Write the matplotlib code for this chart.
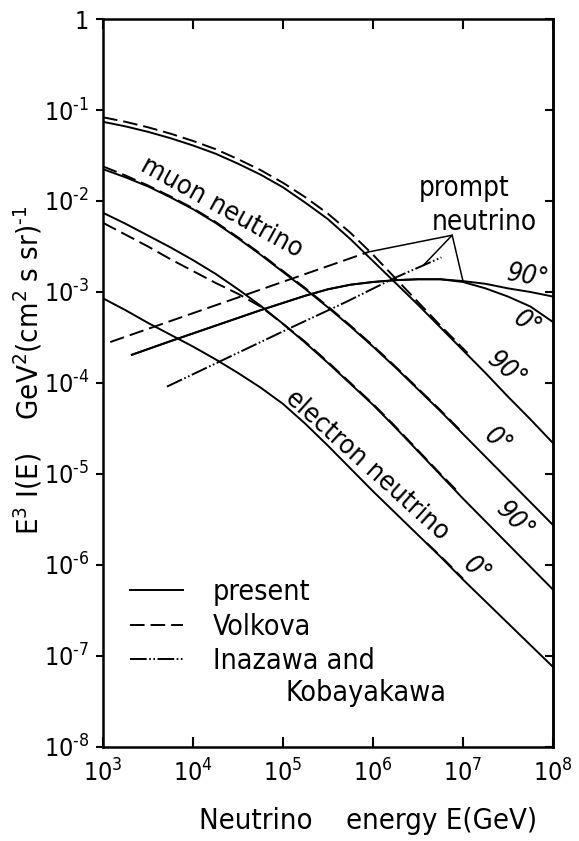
import numpy as np
import matplotlib.pyplot as plt
from matplotlib.ticker import FixedLocator, FixedFormatter, NullLocator

plt.rcParams['font.family'] = ['DejaVu Sans']
plt.rcParams['font.stretch'] = 'condensed'
plt.rcParams['mathtext.fontset'] = 'custom'
plt.rcParams['mathtext.rm'] = 'DejaVu Sans:stretch=condensed'
plt.rcParams['mathtext.it'] = 'DejaVu Sans:stretch=condensed'
plt.rcParams['lines.scale_dashes'] = False

# values, as log10(E / GeV) and log10(E^3 I(E))
log_e = [3.0, 3.25, 3.5, 3.75, 4.0, 4.25, 4.5, 4.75, 5.0, 5.25, 5.5,
         5.75, 6.0, 6.25, 6.5, 6.75, 7.0, 7.25, 7.5, 7.75, 8.0]

# present calculation
muon_90 = [-1.13, -1.18, -1.24, -1.31, -1.39, -1.48, -1.59, -1.71, -1.85, -2.02, -2.20,
           -2.42, -2.66, -2.90, -3.14, -3.39, -3.64, -3.89, -4.15, -4.40, -4.66]
muon_0 = [-1.65, -1.74, -1.84, -1.96, -2.09, -2.24, -2.41, -2.59, -2.78, -2.97, -3.17,
          -3.38, -3.60, -3.83, -4.07, -4.31, -4.56, -4.81, -5.06, -5.31, -5.56]
elec_90 = [-2.13, -2.25, -2.38, -2.51, -2.65, -2.80, -2.97, -3.15, -3.35, -3.56, -3.78,
           -4.01, -4.24, -4.49, -4.75, -5.01, -5.27, -5.52, -5.77, -6.02, -6.27]
elec_0 = [-3.07, -3.20, -3.34, -3.47, -3.60, -3.74, -3.89, -4.05, -4.23, -4.45, -4.69,
          -4.94, -5.19, -5.43, -5.67, -5.91, -6.16, -6.40, -6.64, -6.88, -7.12]

# Volkova
volk_mu90_e = [3.0, 3.25, 3.5, 3.75, 4.0, 4.25, 4.5, 4.75, 5.0, 5.25, 5.5, 5.75, 6.0, 6.25, 6.5, 6.75, 7.05]
volk_mu90 = [-1.08, -1.13, -1.19, -1.26, -1.34, -1.43, -1.54, -1.66, -1.80, -1.96, -2.14,
             -2.35, -2.59, -2.85, -3.11, -3.37, -3.67]
volk_mu0_e = [3.0, 3.25, 3.5, 3.75, 4.0, 4.25, 4.5, 4.75, 5.0, 5.25, 5.5, 5.75, 6.0, 6.25, 6.5, 6.75, 7.0]
volk_mu0 = [-1.62, -1.72, -1.83, -1.95, -2.08, -2.23, -2.40, -2.58, -2.77, -2.96, -3.16,
            -3.37, -3.59, -3.82, -4.06, -4.30, -4.55]
volk_e90_e = [3.0, 3.25, 3.5, 3.75, 4.0, 4.25, 4.5, 4.75, 5.0, 5.25, 5.5, 5.75, 6.0, 6.25, 6.5, 6.75, 6.92]
volk_e90 = [-2.24, -2.37, -2.50, -2.64, -2.77, -2.90, -3.02, -3.16, -3.35, -3.55, -3.77,
            -4.00, -4.23, -4.48, -4.74, -5.00, -5.17]
volk_e0_e = [6.6, 6.8, 7.0]
volk_e0 = [-5.76, -5.95, -6.15]

# prompt neutrinos
prompt_e = [3.32, 3.75, 4.25, 4.75, 5.0, 5.25, 5.5, 5.75, 6.0, 6.25, 6.5, 6.75,
            7.0, 7.25, 7.5, 7.75, 8.0]
prompt_90 = [-3.69, -3.54, -3.37, -3.20, -3.12, -3.04, -2.97, -2.92, -2.89, -2.87, -2.86, -2.86,
             -2.88, -2.91, -2.96, -3.00, -3.05]
prompt_0 = [-3.69, -3.54, -3.37, -3.20, -3.12, -3.04, -2.97, -2.92, -2.89, -2.87, -2.86, -2.86,
            -2.89, -2.96, -3.05, -3.16, -3.33]
volk_prompt_e = [3.08, 5.95]
volk_prompt = [-3.55, -2.56]
ik_prompt_e = [3.71, 5.07, 5.7, 6.23, 6.76]
ik_prompt = [-4.04, -3.40, -3.11, -2.85, -2.62]

x_ticks = [1e3, 1e4, 1e5, 1e6, 1e7, 1e8]
x_labels = ['$10^3$', '$10^4$', '$10^5$', '$10^6$', '$10^7$', '$10^8$']
y_ticks = [1, 1e-1, 1e-2, 1e-3, 1e-4, 1e-5, 1e-6, 1e-7, 1e-8]
y_labels = ['1', '$10^{‐1}$', '$10^{‐2}$', '$10^{‐3}$', '$10^{‐4}$',
            '$10^{‐5}$', '$10^{‐6}$', '$10^{‐7}$', '$10^{‐8}$']

FS = 18
LW = 1.4
DASH = (0, (10.5, 4.3))
DASHDOT = (0, (12, 1.8, 1.2, 1.8, 1.2, 1.8))


def p(v):
    return 10 ** np.asarray(v)


fig = plt.figure(figsize=(5.79, 8.41), dpi=100)
ax = fig.add_axes([0.178, 0.1118, 0.777, 0.8656])
ax.set_xscale('log')
ax.set_yscale('log')

kw = dict(color='black', lw=LW)
l_present, = ax.plot(p(log_e), p(muon_90), **kw)
for y in (muon_0, elec_90, elec_0):
    ax.plot(p(log_e), p(y), **kw)
ax.plot(p(prompt_e), p(prompt_90), **kw)
ax.plot(p(prompt_e), p(prompt_0), **kw)

l_volk, = ax.plot(p(volk_mu90_e), p(volk_mu90), ls=DASH, **kw)
ax.plot(p(volk_mu0_e), p(volk_mu0), ls=DASH, **kw)
ax.plot(p(volk_e90_e), p(volk_e90), ls=DASH, **kw)
ax.plot(p(volk_e0_e), p(volk_e0), ls=DASH, **kw)
ax.plot(p(volk_prompt_e), p(volk_prompt), ls=DASH, **kw)

l_ik, = ax.plot(p(ik_prompt_e), p(ik_prompt), ls=DASHDOT, **kw)

ax.set_xlim(1e3, 1e8)
ax.set_ylim(1e-8, 1)

ax.xaxis.set_major_locator(FixedLocator(x_ticks))
ax.xaxis.set_major_formatter(FixedFormatter(x_labels))
ax.xaxis.set_minor_locator(NullLocator())
ax.yaxis.set_major_locator(FixedLocator(y_ticks))
ax.yaxis.set_major_formatter(FixedFormatter(y_labels))
ax.yaxis.set_minor_locator(NullLocator())
ax.tick_params(axis='x', which='major', direction='in', top=True, length=7, width=1.5,
               labelsize=FS, pad=9)
ax.tick_params(axis='y', which='major', direction='out', length=5, width=1.5,
               labelsize=FS, pad=5)
for s in ax.spines.values():
    s.set_linewidth(1.8)

right = ax.secondary_yaxis('right')
right.set_yscale('log')
right.yaxis.set_major_locator(FixedLocator(y_ticks))
right.yaxis.set_minor_locator(NullLocator())
right.tick_params(direction='in', length=6, width=1.5, labelright=False)
right.spines['right'].set_linewidth(1.8)

ax.set_xlabel('Neutrino    energy E(GeV)', fontsize=21)
ax.xaxis.set_label_coords(0.589, -0.082)
ax.set_ylabel(r'E$^3$ I(E)    GeV$^2$(cm$^2$ s sr)$^{‐1}$', fontsize=21)
ax.yaxis.set_label_coords(-0.13, 0.518)

# curve labels
ax.text(0.263, 0.740, 'muon neutrino', transform=ax.transAxes, fontsize=19.5,
        rotation=-29, ha='center', va='center', rotation_mode='anchor')
ax.text(0.587, 0.387, 'electron neutrino', transform=ax.transAxes, fontsize=19.5,
        rotation=-42, ha='center', va='center', rotation_mode='anchor')
ax.text(0.802, 0.768, 'prompt', transform=ax.transAxes, fontsize=20, ha='center', va='center')
ax.text(0.847, 0.721, 'neutrino', transform=ax.transAxes, fontsize=20, ha='center', va='center')

angle_labels = [('90°', 0.944, 0.646, -10), ('0°', 0.942, 0.581, -35),
                ('90°', 0.898, 0.518, -40), ('0°', 0.876, 0.420, -40),
                ('90°', 0.916, 0.310, -45), ('0°', 0.831, 0.243, -40)]
for txt, fx, fy, rot in angle_labels:
    ax.text(fx, fy, txt, transform=ax.transAxes, fontsize=19, style='italic',
            rotation=rot, ha='center', va='center', rotation_mode='anchor')

# leader lines from the "prompt neutrino" label
apex = (0.776, 0.703)
ik_hit = 6.56
ik_val = np.interp(ik_hit, ik_prompt_e, ik_prompt)
targets = [(volk_prompt_e[-1], volk_prompt[-1]), (ik_hit, ik_val),
           (prompt_e[12], prompt_90[12])]
for tx, ty in targets:
    ax.annotate('', xy=(10 ** tx, 10 ** ty), xycoords='data', xytext=apex,
                textcoords='axes fraction',
                arrowprops=dict(arrowstyle='-', color='black', lw=1.1,
                                shrinkA=0, shrinkB=0))

leg = ax.legend([l_present, l_volk, l_ik], ['present', 'Volkova', 'Inazawa and'],
                loc='upper left', bbox_to_anchor=(0.06, 0.232), frameon=False,
                fontsize=20.5, handlelength=1.86, handletextpad=1.05, labelspacing=0.23,
                borderpad=0, borderaxespad=0)
ax.text(0.405, 0.074, 'Kobayakawa', transform=ax.transAxes, fontsize=20.5,
        ha='left', va='center')

fig.savefig('out.png', dpi=100)
